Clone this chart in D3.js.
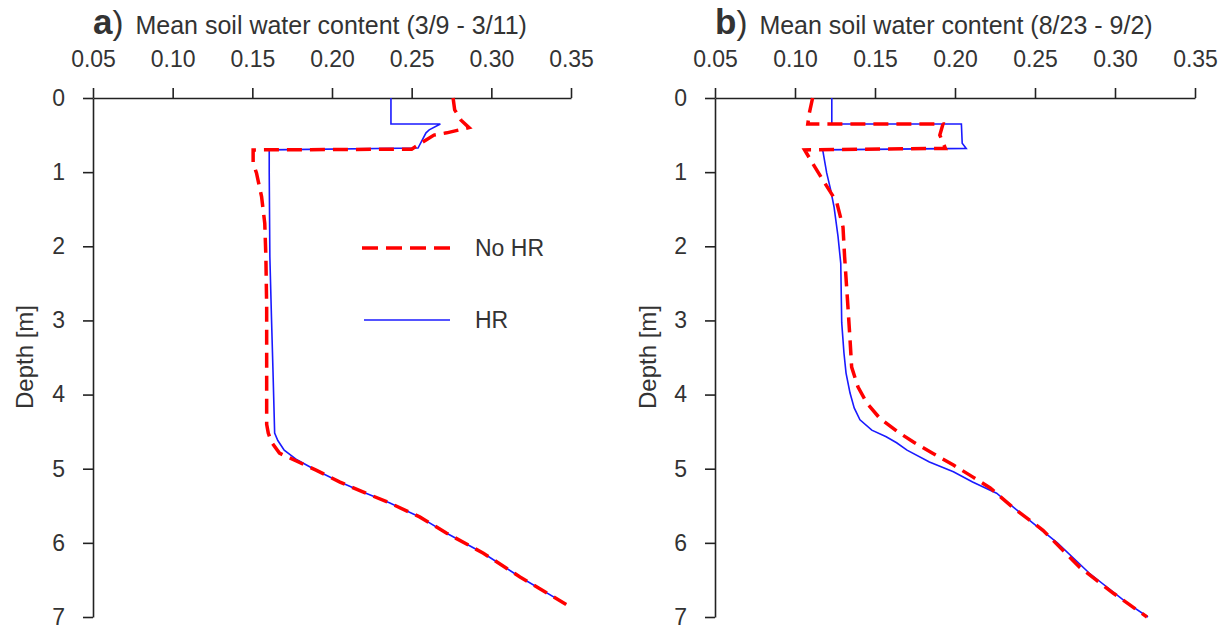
<!DOCTYPE html>
<html>
<head>
<meta charset="utf-8">
<script src="https://cdn.jsdelivr.net/npm/d3@7/dist/d3.min.js"></script>
<style>
  html, body { margin: 0; padding: 0; background: #fff; }
  svg { display: block; }
  text { font-family: "Liberation Sans", Arial, sans-serif; fill: #333; }
</style>
</head>
<body>
<svg id="chart" width="1225" height="631"></svg>
<script>
// ---- data ----
const xTicks = [0.05, 0.10, 0.15, 0.20, 0.25, 0.30, 0.35];
const yTicks = [0, 1, 2, 3, 4, 5, 6, 7];
const panelLetters = ["a", "b"];
const panelTitles = ["Mean soil water content (3/9 - 3/11)", "Mean soil water content (8/23 - 9/2)"];
const seriesNames = ["No HR", "HR"];

// Panel a, HR (blue)
const depthA_HR = [0, 0.35, 0.35, 0.43, 0.47, 0.675, 0.70, 1.0, 2.14, 2.95, 3.71, 4.52, 4.62, 4.75, 4.88, 5.02, 5.18, 5.31, 5.46, 5.65, 5.87, 6.14, 6.46, 6.83];
const valueA_HR = [0.237, 0.237, 0.268, 0.261, 0.259, 0.254, 0.1606, 0.1606, 0.161, 0.162, 0.163, 0.164, 0.166, 0.170, 0.178, 0.190, 0.205, 0.219, 0.236, 0.255, 0.272, 0.295, 0.318, 0.347];
// Panel a, No HR (red)
const depthA_NoHR = [0, 0.16, 0.30, 0.40, 0.47, 0.50, 0.62, 0.69, 0.70, 0.88, 1.01, 1.33, 1.69, 2.14, 2.82, 3.71, 4.40, 4.52, 4.64, 4.79, 4.92, 5.02, 5.18, 5.31, 5.46, 5.65, 5.87, 6.14, 6.46, 6.83];
const valueA_NoHR = [0.276, 0.277, 0.281, 0.286, 0.272, 0.264, 0.255, 0.250, 0.1505, 0.1505, 0.1526, 0.1558, 0.1578, 0.1585, 0.159, 0.159, 0.159, 0.160, 0.162, 0.167, 0.180, 0.190, 0.205, 0.219, 0.236, 0.255, 0.272, 0.295, 0.318, 0.347];
// Panel b, HR (blue)
const depthB_HR = [0, 0.35, 0.35, 0.61, 0.68, 0.70, 1.01, 1.24, 1.47, 1.87, 2.23, 3.03, 3.44, 3.71, 3.98, 4.18, 4.34, 4.48, 4.57, 4.65, 4.75, 4.91, 5.04, 5.18, 5.33, 5.60, 6.00, 6.41, 6.81, 7.0];
const valueB_HR = [0.123, 0.123, 0.204, 0.2045, 0.207, 0.1173, 0.1198, 0.1223, 0.1244, 0.1269, 0.1286, 0.1292, 0.1306, 0.1319, 0.1344, 0.1370, 0.1406, 0.148, 0.157, 0.1635, 0.170, 0.184, 0.199, 0.211, 0.226, 0.241, 0.264, 0.284, 0.3075, 0.3206];
// Panel b, No HR (red)
const depthB_NoHR = [0, 0.20, 0.35, 0.35, 0.50, 0.68, 0.70, 0.88, 1.11, 1.40, 1.74, 2.14, 2.82, 3.26, 3.63, 3.90, 4.11, 4.32, 4.50, 4.64, 4.79, 4.95, 5.11, 5.26, 5.52, 5.83, 6.33, 6.68, 7.0];
const valueB_NoHR = [0.111, 0.109, 0.108, 0.1925, 0.1905, 0.194, 0.106, 0.111, 0.1175, 0.126, 0.130, 0.131, 0.1331, 0.1344, 0.1354, 0.1394, 0.1448, 0.153, 0.164, 0.174, 0.186, 0.199, 0.211, 0.222, 0.236, 0.255, 0.278, 0.299, 0.32];

// ---- layout ----
const svg = d3.select("#chart");
const panels = [
  { left: 93, right: 571, depthHR: depthA_HR, valHR: valueA_HR, depthNo: depthA_NoHR, valNo: valueA_NoHR, labelX: 25, legend: true },
  { left: 715, right: 1195, depthHR: depthB_HR, valHR: valueB_HR, depthNo: depthB_NoHR, valNo: valueB_NoHR, labelX: 648, legend: false }
];
const plotTop = 98, plotBottom = 617;
const red = "#ff0000", blue = "#1a1aff";

panels.forEach((p, i) => {
  const x = d3.scaleLinear().domain([0.05, 0.35]).range([p.left, p.right]);
  const y = d3.scaleLinear().domain([0, 7]).range([plotTop, plotBottom]);

  const xAxis = d3.axisTop(x).tickValues(xTicks).tickFormat(d3.format(".2f"))
    .tickSize(10).tickSizeOuter(0).tickPadding(21);
  const yAxis = d3.axisLeft(y).tickValues(yTicks).tickFormat(d3.format("d"))
    .tickSize(10).tickSizeOuter(0).tickPadding(18);

  const gx = svg.append("g").attr("transform", `translate(0,${plotTop})`).call(xAxis);
  const gy = svg.append("g").attr("transform", `translate(${p.left},0)`).call(yAxis);
  [gx, gy].forEach(g => {
    g.selectAll("path, line").attr("stroke", "#222").attr("stroke-width", 1.6);
    g.selectAll("text").attr("font-size", 23).attr("fill", "#333")
      .attr("font-family", "Liberation Sans, Arial, sans-serif");
  });

  // title
  const t = svg.append("text").attr("x", p.left).attr("y", 34);
  t.append("tspan").attr("font-size", 35).attr("font-weight", "bold").text(panelLetters[i]);
  t.append("tspan").attr("font-size", 33).text(")");
  t.append("tspan").attr("font-size", 25).attr("dx", 12).text(panelTitles[i]);

  // depth label
  svg.append("text")
    .attr("transform", `translate(${p.labelX + 8},357) rotate(-90)`)
    .attr("text-anchor", "middle").attr("font-size", 24)
    .text("Depth [m]");

  const line = d3.line().x(d => x(d[1])).y(d => y(d[0]));
  const ptsHR = p.depthHR.map((d, k) => [d, p.valHR[k]]);
  const ptsNo = p.depthNo.map((d, k) => [d, p.valNo[k]]);

  svg.append("path").datum(ptsHR).attr("d", line)
    .attr("fill", "none").attr("stroke", blue).attr("stroke-width", 1.6);
  svg.append("path").datum(ptsNo).attr("d", line)
    .attr("fill", "none").attr("stroke", red).attr("stroke-width", 3.5)
    .attr("stroke-dasharray", "15,8");

  if (p.legend) {
    const lg = svg.append("g");
    lg.append("line").attr("x1", 362).attr("x2", 452).attr("y1", 248).attr("y2", 248)
      .attr("stroke", red).attr("stroke-width", 3.5).attr("stroke-dasharray", "16,8");
    lg.append("text").attr("x", 475).attr("y", 256).attr("font-size", 23).text(seriesNames[0]);
    lg.append("line").attr("x1", 364).attr("x2", 450).attr("y1", 320).attr("y2", 320)
      .attr("stroke", blue).attr("stroke-width", 1.6);
    lg.append("text").attr("x", 475).attr("y", 328).attr("font-size", 23).text(seriesNames[1]);
  }
});
</script>
</body>
</html>
